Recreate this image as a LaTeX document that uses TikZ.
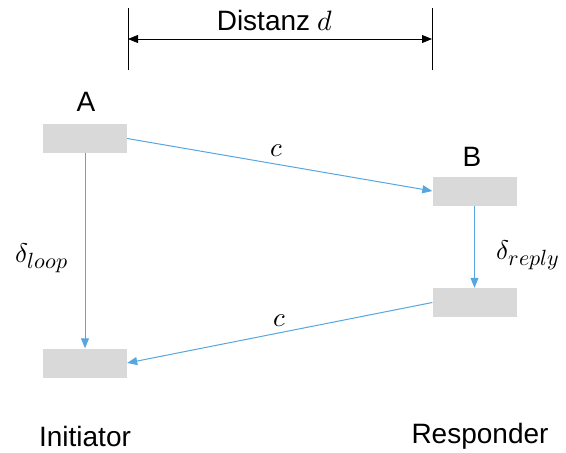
\documentclass[tikz,border=0pt]{standalone}
\usepackage{fontspec}
\setmainfont{Liberation Sans}
\usepackage{unicode-math}
\setmathfont{Latin Modern Math}
\usetikzlibrary{arrows.meta}
\definecolor{flow}{RGB}{86,166,224}
\definecolor{boxgray}{RGB}{217,217,217}
\newcommand{\bigsub}[1]{\mbox{\fontsize{22}{24}\selectfont$#1$}}
\tikzset{
  stationbox/.style={fill=boxgray, draw=none, minimum width=84pt, minimum height=29pt, inner sep=0pt},
  msg/.style={draw=flow, line width=1pt, -{Triangle[length=10pt,width=8pt]}},
  lbl/.style={font=\fontsize{28}{32}\selectfont, inner sep=0pt},
  mlbl/.style={font=\fontsize{27}{30}\selectfont, inner sep=0pt},
}
\begin{document}
\begin{tikzpicture}[x=1pt,y=-1pt]
\useasboundingbox (0,0) rectangle (566,453);
% stations
\node[stationbox] (a1) at (85,138.5) {};
\node[stationbox] (b1) at (474.5,191) {};
\node[stationbox] (b2) at (474.5,302.5) {};
\node[stationbox] (a2) at (85,363) {};
% titles
\node[lbl] (ta) at (86,102) {A};
\node[lbl] (tb) at (472,157) {B};
\node[lbl] (ini) at (85,436) {Initiator};
\node[lbl] (res) at (480,436) {Responder};
% distance marker
\coordinate (dl0) at (128,8);
\coordinate (dl1) at (128,70);
\coordinate (dr0) at (432,8);
\coordinate (dr1) at (432,70);
\coordinate (dl) at (128,39);
\coordinate (dr) at (432,39);
\draw[line width=0.8pt] (dl0) -- (dl1);
\draw[line width=0.8pt] (dr0) -- (dr1);
\draw[line width=0.8pt, {Triangle[length=10pt,width=8pt]}-{Triangle[length=10pt,width=8pt]}] (dl) -- (dr);
\node[lbl] (dist) at (275,21) {Distanz $d$};
% messages
\draw[msg] (a1.east) -- (b1.west);
\draw[msg] (b1.south) -- (b2.north);
\draw[msg] (b2.west) -- (a2.east);
\draw[msg] (a1.south) -- (a2.north);
\node[mlbl] (c1) at (277,151) {$c$};
\node[mlbl] (c2) at (280,321) {$c$};
\node[mlbl] (dloop) at (42,258) {$\delta_{\bigsub{loop}}$};
\node[mlbl] (drep) at (528,255) {$\delta_{\bigsub{reply}}$};
\end{tikzpicture}
\end{document}
